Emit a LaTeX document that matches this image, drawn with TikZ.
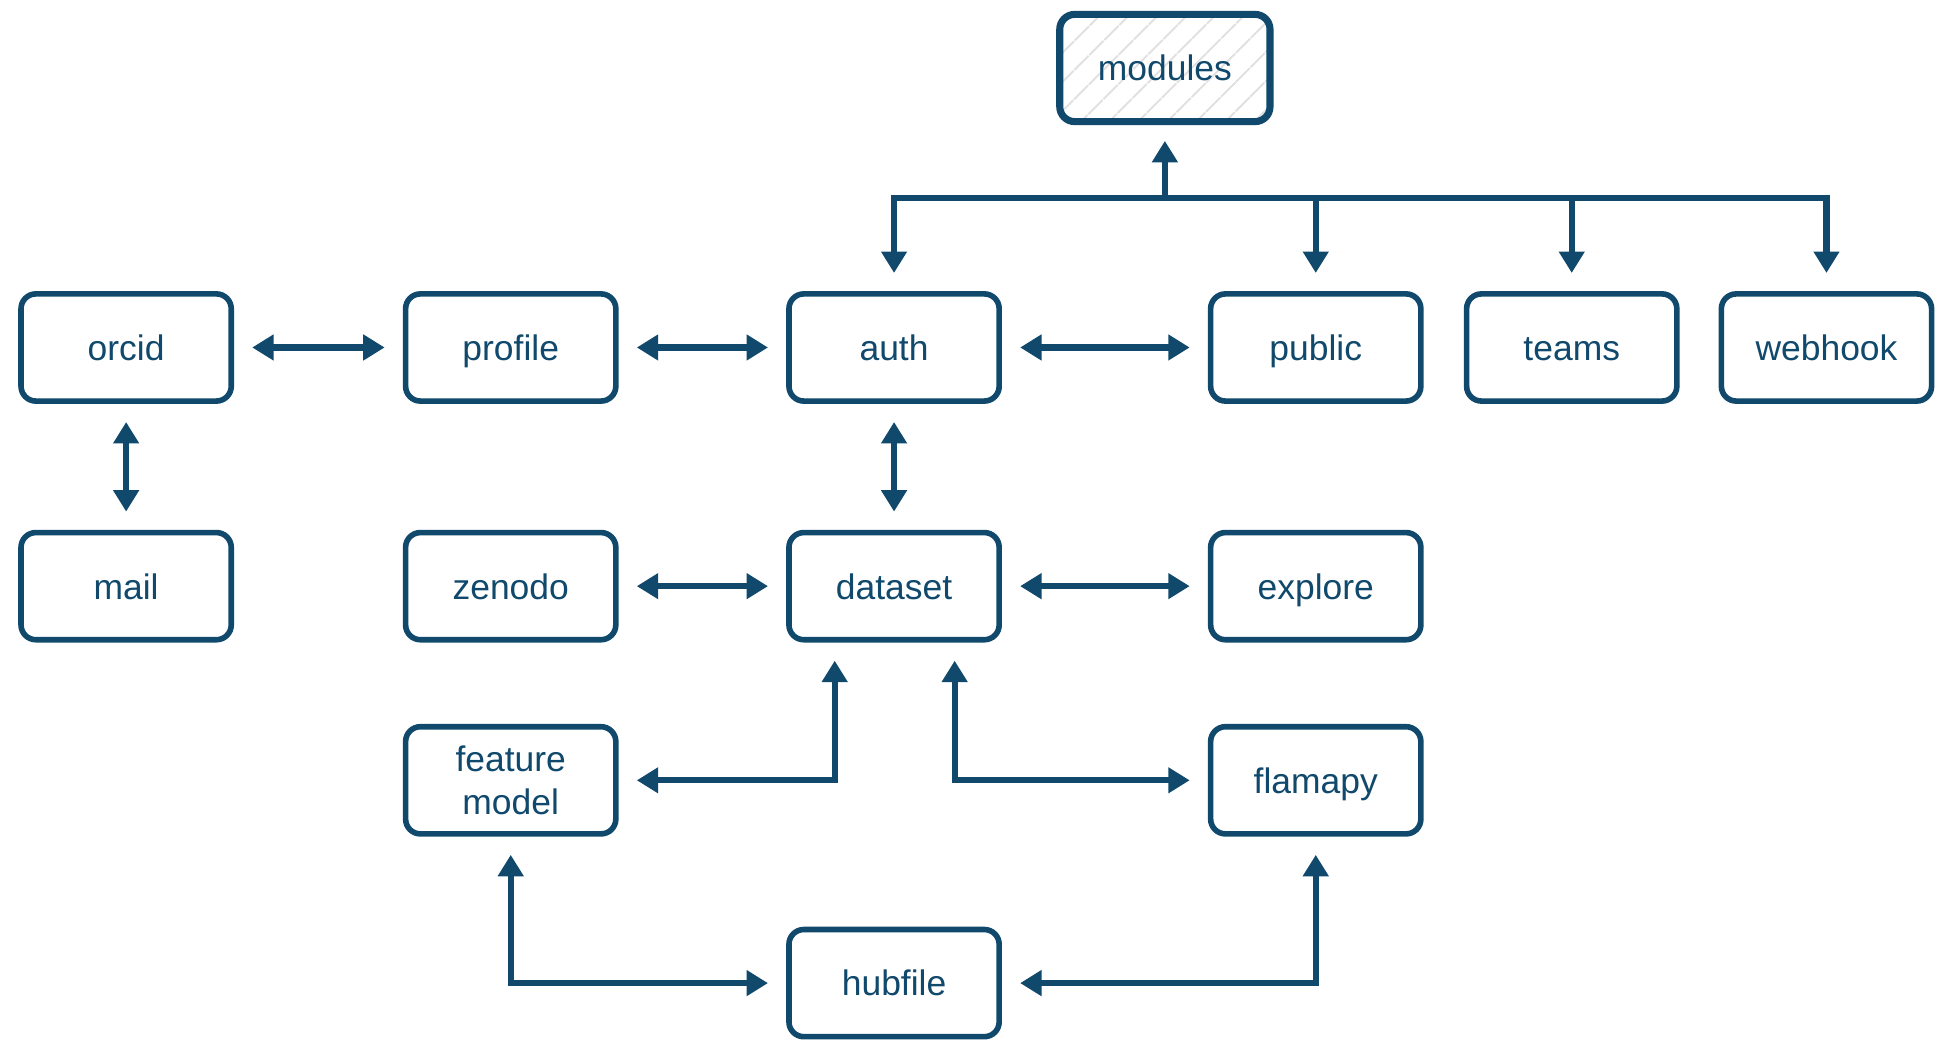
\documentclass[tikz,border=0pt]{standalone}
\usepackage{fontspec}
\setmainfont{Liberation Sans}
\usetikzlibrary{arrows.meta, patterns.meta}
\definecolor{navy}{RGB}{16,73,108}

\begin{document}
\begin{tikzpicture}[x=0.75pt, y=-0.75pt,
  mod/.style={draw=navy, line width=3.4pt, rounded corners=9pt, minimum width=127.5pt, minimum height=65pt,
    inner sep=0pt, text=navy, align=center, font=\fontsize{21.5}{26}\selectfont,
    text height=15.6pt, text depth=0pt},
  link/.style={navy, line width=3.7pt, {Triangle[length=13pt, width=15pt]}-{Triangle[length=13pt, width=15pt]},
    shorten <=11pt, shorten >=11pt},
  branch/.style={navy, line width=3.7pt, -{Triangle[length=13pt, width=15pt]}, shorten >=11pt}]
  \useasboundingbox (0,0) rectangle (1568,841);

  % top module
  \node[mod, line width=4.3pt, pattern={Lines[angle=45, distance=13pt, line width=1.4pt]}, pattern color=black!12] (modules) at (942,55) {modules};

  % first row
  \node[mod] (orcid) at (102,281) {orcid};
  \node[mod] (profile) at (413,281) {profile};
  \node[mod] (auth) at (723,281) {auth};
  \node[mod] (public) at (1064,281) {public};
  \node[mod] (teams) at (1271,281) {teams};
  \node[mod] (webhook) at (1477,281) {webhook};

  % second row
  \node[mod] (mail) at (102,474) {mail};
  \node[mod] (zenodo) at (413,474) {zenodo};
  \node[mod] (dataset) at (723,474) {dataset};
  \node[mod] (explore) at (1064,474) {explore};

  % bottom
  \node[mod, text height=, text depth=] (fm) at (413,631) {feature\\model};
  \node[mod] (flamapy) at (1064,631) {flamapy};
  \node[mod] (hubfile) at (723,795) {hubfile};

  % tree under modules
  \coordinate (split) at (942,160);
  \draw[branch] (split) -- (modules.south);
  \foreach \m in {auth, public, teams, webhook}
    \draw[branch] (split) -| (\m.north);

  % links
  \draw[link] (orcid) -- (profile);
  \draw[link] (profile) -- (auth);
  \draw[link] (auth) -- (public);
  \draw[link] (orcid) -- (mail);
  \draw[link] (auth) -- (dataset);
  \draw[link] (zenodo) -- (dataset);
  \draw[link] (dataset) -- (explore);
  \draw[link] ([xshift=-36pt]dataset.south) |- (fm.east);
  \draw[link] ([xshift=36.75pt]dataset.south) |- (flamapy.west);
  \draw[link] (fm.south) |- (hubfile.west);
  \draw[link] (flamapy.south) |- (hubfile.east);
\end{tikzpicture}
\end{document}
